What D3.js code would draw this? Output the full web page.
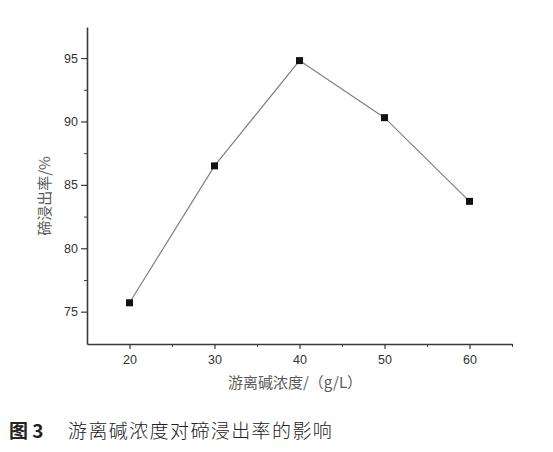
<!DOCTYPE html>
<html>
<head>
<meta charset="utf-8">
<script src="https://cdn.jsdelivr.net/npm/d3@7"></script>
<style>
  body { margin: 0; background: #fff; }
  svg text { font-family: "Liberation Sans", Arial, sans-serif; }
</style>
</head>
<body>
<div class="chart"></div>
<script>
// free alkali concentration (g/L) vs tellurium leaching rate (%)
var concentration = [20, 30, 40, 50, 60];
var leachRate = [75.7, 86.5, 94.8, 90.3, 83.7];
var xTicks = [20, 30, 40, 50, 60];
var yTicks = [75, 80, 85, 90, 95];

var width = 553, height = 452;
var margin = { left: 87, right: 41, top: 27, bottom: 108 };

var svg = d3.select(".chart")
    .append("svg")
    .attr("width", width)
    .attr("height", height);

var x = d3.scaleLinear().domain([15, 65]).range([margin.left, width - margin.right]);
var y = d3.scaleLinear().domain([72.45, 97.45]).range([height - margin.bottom, margin.top]);

var axisColor = "#3a3a3a";

// minor ticks first so the major ones sit on top
svg.append("g")
    .attr("transform", "translate(0," + (height - margin.bottom) + ")")
    .call(d3.axisBottom(x).tickValues([25, 35, 45, 55, 65]).tickSize(3).tickFormat(""))
    .call(function(g) { g.select(".domain").remove(); g.selectAll("line").attr("stroke", axisColor); });

svg.append("g")
    .attr("transform", "translate(" + margin.left + ",0)")
    .call(d3.axisLeft(y).tickValues([77.5, 82.5, 87.5, 92.5]).tickSize(3).tickFormat(""))
    .call(function(g) { g.select(".domain").remove(); g.selectAll("line").attr("stroke", axisColor); });

var xAxis = svg.append("g")
    .attr("transform", "translate(0," + (height - margin.bottom) + ")")
    .call(d3.axisBottom(x).tickValues(xTicks).tickSize(5).tickSizeOuter(0).tickPadding(6));

var yAxis = svg.append("g")
    .attr("transform", "translate(" + margin.left + ",0)")
    .call(d3.axisLeft(y).tickValues(yTicks).tickSize(6).tickSizeOuter(0).tickPadding(3));

[xAxis, yAxis].forEach(function(g) {
    g.select(".domain").attr("stroke", axisColor).attr("stroke-width", 1.6);
    g.selectAll("line").attr("stroke", axisColor).attr("stroke-width", 1.2);
    g.selectAll("text")
        .attr("fill", "#333")
        .style("font-family", "'Liberation Sans', Arial, sans-serif")
        .style("font-size", "12.5px");
});

// the data line
var line = d3.line()
    .x(function(d, i) { return x(concentration[i]); })
    .y(function(d) { return y(d); });

svg.append("path")
    .datum(leachRate)
    .attr("d", line)
    .attr("fill", "none")
    .attr("stroke", "#8c7b77")
    .attr("stroke-width", 1.2);

svg.selectAll("rect.pt")
    .data(leachRate)
    .enter()
    .append("rect")
    .attr("class", "pt")
    .attr("x", function(d, i) { return x(concentration[i]) - 3.5; })
    .attr("y", function(d) { return y(d) - 3.5; })
    .attr("width", 7)
    .attr("height", 7)
    .attr("fill", "#111");

// axis titles
svg.append("text")
    .attr("transform", "translate(50," + 196 + ") rotate(-90)")
    .attr("text-anchor", "middle")
    .attr("fill", "#5a5a5a")
    .style("font-family", "'Noto Sans CJK SC', sans-serif")
    .style("font-size", "15px")
    .text("碲浸出率/%");

svg.append("text")
    .attr("x", 295)
    .attr("y", 388)
    .attr("text-anchor", "middle")
    .attr("fill", "#5a5a5a")
    .style("font-family", "'Noto Sans CJK SC', sans-serif")
    .style("font-size", "15px")
    .text("游离碱浓度/（g/L）");

// figure caption
var cap = svg.append("text")
    .attr("x", 9)
    .attr("y", 438)
    .attr("fill", "#222")
    .style("font-family", "'Noto Sans CJK SC', sans-serif")
    .style("font-size", "19px");
cap.append("tspan").style("font-weight", "bold").text("图 3");
cap.append("tspan")
    .attr("x", 68)
    .style("font-weight", "300")
    .style("letter-spacing", "1.4px")
    .text("游离碱浓度对碲浸出率的影响");
</script>
</body>
</html>
